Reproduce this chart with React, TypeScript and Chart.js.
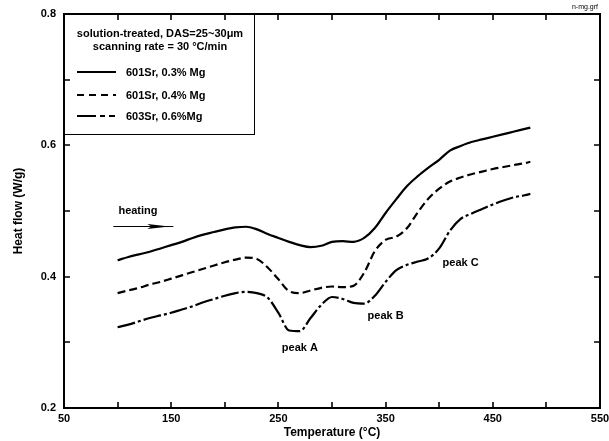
import React, { useEffect, useRef } from 'react';
import { Chart, registerables } from 'chart.js';

Chart.register(...registerables);

// ---- data ----
const temperatures = [100, 110, 120, 130, 140, 150, 160, 170, 180, 190, 200, 210, 220, 230, 240, 250, 260, 270, 280, 290, 300, 310, 320, 330, 340, 350, 360, 370, 380, 390, 400, 410, 420, 430, 440, 450, 460, 470, 480, 485];

const heat601Sr03Mg = [0.425, 0.430, 0.434, 0.438, 0.443, 0.448, 0.453, 0.459, 0.464, 0.468, 0.472, 0.475, 0.476, 0.472, 0.465, 0.459, 0.453, 0.448, 0.445, 0.447, 0.453, 0.454, 0.453, 0.459, 0.474, 0.497, 0.518, 0.538, 0.553, 0.566, 0.578, 0.592, 0.599, 0.605, 0.609, 0.613, 0.617, 0.621, 0.625, 0.627];

const heat601Sr04Mg = [0.375, 0.379, 0.383, 0.388, 0.392, 0.397, 0.402, 0.407, 0.412, 0.417, 0.422, 0.426, 0.429, 0.427, 0.414, 0.396, 0.378, 0.375, 0.379, 0.383, 0.385, 0.384, 0.386, 0.406, 0.439, 0.456, 0.461, 0.474, 0.498, 0.519, 0.534, 0.545, 0.551, 0.556, 0.560, 0.564, 0.567, 0.570, 0.573, 0.575];

const heat603Sr06Mg = [0.323, 0.327, 0.332, 0.337, 0.341, 0.345, 0.350, 0.355, 0.361, 0.366, 0.371, 0.375, 0.377, 0.375, 0.368, 0.345, 0.318, 0.317, 0.337, 0.357, 0.369, 0.366, 0.360, 0.359, 0.371, 0.392, 0.410, 0.418, 0.423, 0.428, 0.443, 0.470, 0.488, 0.496, 0.503, 0.510, 0.516, 0.521, 0.524, 0.526];

const seriesLabels = ['601Sr, 0.3% Mg', '601Sr, 0.4% Mg', '603Sr, 0.6%Mg'];
const seriesDashes = [[], [8, 4], [18, 3, 3, 3]];
const legendDashes = [[], [7, 5], [19, 4, 5, 4, 6, 40]];
const legendTitle = ['solution-treated, DAS=25~30\u03bcm', 'scanning rate = 30 \u00b0C/min'];

const xTickValues = [50, 100, 150, 200, 250, 300, 350, 400, 450, 500, 550];
const xTickLabels = ['50', '', '150', '', '250', '', '350', '', '450', '', '550'];
const yTickValues = [0.2, 0.3, 0.4, 0.5, 0.6, 0.7, 0.8];
const yTickLabels = ['0.2', '', '0.4', '', '0.6', '', '0.8'];

const peakTexts = ['peak A', 'peak B', 'peak C'];
const peakX = [270, 350, 420];
const peakY = [0.291, 0.340, 0.421];

const heatingText = 'heating';
const heatingAt = [119, 0.500];
const arrowFrom = [96, 0.477];
const arrowTo = [152, 0.477];

const FONT = "'Liberation Sans', Arial, Helvetica, sans-serif";

const framePlugin = {
  id: 'framePlugin',
  afterDraw(chart: any) {
    const { ctx, chartArea: a, scales } = chart;
    const xs = scales.x;
    const ys = scales.y;
    ctx.save();
    ctx.strokeStyle = '#000';
    ctx.fillStyle = '#000';

    // frame
    ctx.lineWidth = 2;
    ctx.strokeRect(a.left, a.top, a.right - a.left, a.bottom - a.top);

    // inward ticks
    ctx.lineWidth = 1.6;
    ctx.beginPath();
    xTickValues.forEach((v) => {
      const px = Math.round(xs.getPixelForValue(v));
      ctx.moveTo(px, a.bottom);
      ctx.lineTo(px, a.bottom - 6);
      ctx.moveTo(px, a.top);
      ctx.lineTo(px, a.top + 6);
    });
    yTickValues.forEach((v) => {
      const py = Math.round(ys.getPixelForValue(v));
      ctx.moveTo(a.left, py);
      ctx.lineTo(a.left + 6, py);
      ctx.moveTo(a.right, py);
      ctx.lineTo(a.right - 6, py);
    });
    ctx.stroke();

    // legend box
    const bx = a.left;
    const by = a.top;
    const bw = 190;
    const bh = 120;
    ctx.lineWidth = 1;
    ctx.strokeRect(bx + 0.5, by + 0.5, bw, bh);
    ctx.font = `bold 11px ${FONT}`;
    ctx.textAlign = 'center';
    ctx.textBaseline = 'middle';
    ctx.fillText(legendTitle[0], bx + 96, by + 20);
    ctx.fillText(legendTitle[1], bx + 96, by + 33);
    ctx.textAlign = 'left';
    const rowY = [58, 81, 102];
    seriesLabels.forEach((lab, i) => {
      const y = by + rowY[i];
      ctx.lineWidth = 2;
      ctx.setLineDash(legendDashes[i]);
      ctx.beginPath();
      ctx.moveTo(bx + 13, y);
      ctx.lineTo(bx + 52, y);
      ctx.stroke();
      ctx.setLineDash([]);
      ctx.fillText(lab, bx + 62, y + 1);
    });

    // heating annotation
    ctx.textAlign = 'center';
    ctx.fillText(heatingText, xs.getPixelForValue(heatingAt[0]), ys.getPixelForValue(heatingAt[1]));
    const ax0 = xs.getPixelForValue(arrowFrom[0]);
    const ax1 = xs.getPixelForValue(arrowTo[0]);
    const ay = Math.round(ys.getPixelForValue(arrowFrom[1])) + 0.5;
    ctx.lineWidth = 1;
    ctx.beginPath();
    ctx.moveTo(ax0, ay);
    ctx.lineTo(ax1, ay);
    ctx.stroke();
    ctx.beginPath();
    ctx.moveTo(ax1 - 4, ay);
    ctx.lineTo(ax1 - 26, ay - 2.5);
    ctx.lineTo(ax1 - 22, ay);
    ctx.lineTo(ax1 - 26, ay + 2.5);
    ctx.closePath();
    ctx.fill();

    // peak labels
    peakTexts.forEach((t, i) => {
      ctx.fillText(t, xs.getPixelForValue(peakX[i]), ys.getPixelForValue(peakY[i]));
    });

    // file name
    ctx.font = `7px ${FONT}`;
    ctx.textAlign = 'right';
    ctx.fillText('n-mg.grf', a.right - 2, 7);

    ctx.restore();
  },
};

export default function App() {
  const ref = useRef<HTMLCanvasElement | null>(null);

  useEffect(() => {
    if (!ref.current) return;
    Chart.defaults.font.family = FONT;
    const series = [heat601Sr03Mg, heat601Sr04Mg, heat603Sr06Mg];
    const chart = new Chart(ref.current, {
      type: 'line',
      data: {
        datasets: series.map((vals, i) => ({
          label: seriesLabels[i],
          data: temperatures.map((t, j) => ({ x: t, y: vals[j] })),
          borderColor: '#000',
          backgroundColor: '#000',
          borderWidth: 2.2,
          borderDash: seriesDashes[i],
          pointRadius: 0,
          fill: false,
          cubicInterpolationMode: 'monotone' as const,
        })),
      },
      options: {
        responsive: false,
        animation: false,
        layout: { padding: { top: 14, right: 9, left: 0, bottom: 0 } },
        plugins: {
          legend: { display: false },
          tooltip: { enabled: false },
        },
        scales: {
          x: {
            type: 'linear',
            min: 50,
            max: 550,
            afterBuildTicks: (scale: any) => {
              scale.ticks = xTickValues.map((v) => ({ value: v }));
            },
            afterFit: (scale: any) => {
              scale.height = 33;
              scale.paddingLeft = 0;
              scale.paddingRight = 0;
            },
            grid: { display: false, drawTicks: false },
            border: { display: false },
            ticks: {
              color: '#000',
              font: { size: 11, weight: 'bold' },
              padding: 4,
              maxRotation: 0,
              autoSkip: false,
              callback: (v: any) => xTickLabels[xTickValues.indexOf(Number(v))] ?? '',
            },
            title: {
              display: true,
              text: 'Temperature (\u00b0C)',
              color: '#000',
              font: { size: 12, weight: 'bold' },
              padding: { top: 0, bottom: 1 },
            },
          },
          y: {
            type: 'linear',
            min: 0.2,
            max: 0.8,
            afterBuildTicks: (scale: any) => {
              scale.ticks = yTickValues.map((v) => ({ value: v }));
            },
            afterFit: (scale: any) => {
              scale.width = 64;
              scale.paddingTop = 0;
              scale.paddingBottom = 0;
            },
            grid: { display: false, drawTicks: false },
            border: { display: false },
            ticks: {
              color: '#000',
              font: { size: 11, weight: 'bold' },
              padding: 8,
              autoSkip: false,
              callback: (v: any) => {
                const idx = yTickValues.findIndex((t) => Math.abs(t - Number(v)) < 1e-6);
                return idx >= 0 ? yTickLabels[idx] : '';
              },
            },
            title: {
              display: true,
              text: 'Heat flow (W/g)',
              color: '#000',
              font: { size: 12, weight: 'bold' },
              padding: { top: 11, bottom: 0 },
            },
          },
        },
      },
      plugins: [framePlugin],
    });
    return () => chart.destroy();
  }, []);

  return (
    <div style={{ position: 'fixed', left: 0, top: 0, width: 609, height: 441, background: '#fff' }}>
      <canvas ref={ref} width={609} height={441} style={{ display: 'block', width: 609, height: 441 }} />
    </div>
  );
}
